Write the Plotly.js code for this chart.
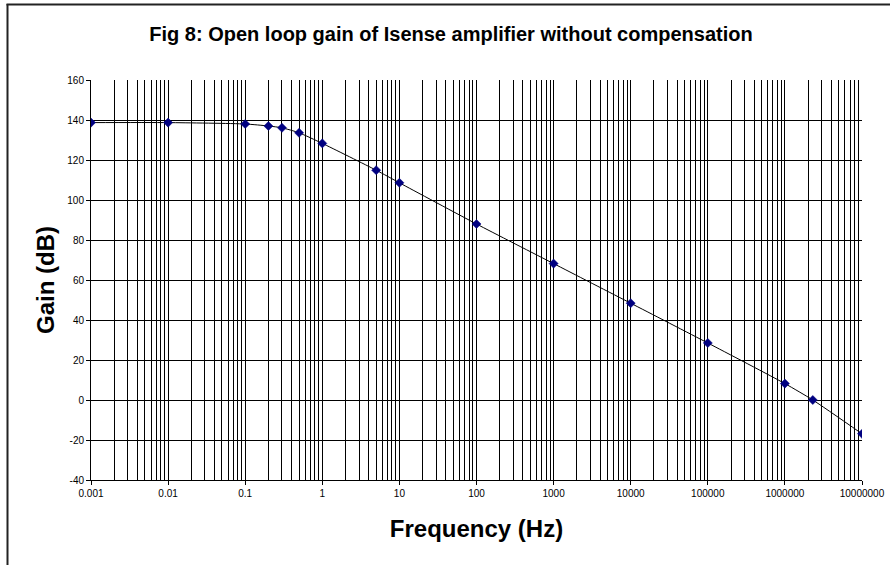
<!DOCTYPE html>
<html>
<head>
<meta charset="utf-8">
<script src="https://cdn.plot.ly/plotly-3.0.1.min.js"></script>
<style>
html,body{margin:0;padding:0;background:#fff;}
#chart{width:890px;height:565px;}
</style>
</head>
<body>
<div id="chart"></div>
<script>
// Data
var frequencyHz = [0.001, 0.01, 0.1, 0.2, 0.3, 0.5, 1, 5, 10, 100, 1000, 10000, 100000, 1000000, 2300000, 10000000];
var gainDb      = [138.7, 138.7, 138.0, 137.0, 136.1, 133.6, 128.3, 114.9, 108.6, 88.0, 68.2, 48.4, 28.5, 8.2, 0.0, -16.9];
var xTickVals   = [0.001, 0.01, 0.1, 1, 10, 100, 1000, 10000, 100000, 1000000, 10000000];
var xTickText   = ["0.001", "0.01", "0.1", "1", "10", "100", "1000", "10000", "100000", "1000000", "10000000"];
var yTickVals   = [-40, -20, 0, 20, 40, 60, 80, 100, 120, 140, 160];
var yTickText   = ["-40", "-20", "0", "20", "40", "60", "80", "100", "120", "140", "160"];

var W = 890, H = 565;
var m = {l: 91, r: 28, t: 80, b: 85};
var pw = W - m.l - m.r, ph = H - m.t - m.b;
function px2x(px){ return (px - m.l) / pw; }
function py2y(py){ return 1 - (py - m.t) / ph; }

var trace = {
  x: frequencyHz,
  y: gainDb,
  type: 'scatter',
  mode: 'lines+markers',
  line: {color: '#000000', width: 1, shape: 'spline', smoothing: 0.6},
  marker: {symbol: 'diamond', size: 7, color: '#000080', line: {color: '#000080', width: 0.5}},
  showlegend: false
};

var gridCol = '#000000';
var layout = {
  width: W, height: H,
  margin: m,
  paper_bgcolor: '#ffffff',
  plot_bgcolor: '#ffffff',
  font: {family: 'Liberation Sans, Arial, sans-serif', color: '#000'},
  title: {
    text: '<b>Fig 8: Open loop gain of Isense amplifier without compensation</b>',
    font: {size: 20, color: '#000'},
    x: 451 / W, xanchor: 'center', xref: 'container',
    y: 1 - 34 / H, yanchor: 'middle'
  },
  xaxis: {
    type: 'log',
    range: [-3, 7],
    tickmode: 'array',
    tickvals: xTickVals,
    ticktext: xTickText,
    tickfont: {size: 10},
    ticks: 'outside', ticklen: 4, tickcolor: '#000', tickwidth: 1,
    showgrid: true, gridcolor: gridCol, gridwidth: 1,
    minor: {dtick: 'D1', showgrid: true, gridcolor: gridCol, gridwidth: 1, ticks: ''},
    showline: true, linecolor: '#000', linewidth: 1,
    zeroline: false,
    title: {text: '<b>Frequency (Hz)</b>', font: {size: 24}, standoff: 22},
    automargin: false
  },
  yaxis: {
    range: [-40, 160],
    tickmode: 'array',
    tickvals: yTickVals,
    ticktext: yTickText,
    tickfont: {size: 10},
    ticks: 'outside', ticklen: 4, tickcolor: '#000', tickwidth: 1,
    showgrid: true, gridcolor: gridCol, gridwidth: 1,
    showline: true, linecolor: '#000', linewidth: 1,
    zeroline: false,
    title: {text: '<b>Gain (dB)</b>', font: {size: 24}, standoff: 5},
    automargin: false
  },
  shapes: [
    {type: 'line', xref: 'paper', yref: 'paper', x0: px2x(7.5), x1: px2x(7.5), y0: py2y(4), y1: py2y(600), line: {color: '#222', width: 2}},
    {type: 'line', xref: 'paper', yref: 'paper', x0: px2x(6.5), x1: px2x(900), y0: py2y(4.5), y1: py2y(4.5), line: {color: '#222', width: 2}}
  ]
};

Plotly.newPlot('chart', [trace], layout, {displayModeBar: false, staticPlot: true});
</script>
</body>
</html>
